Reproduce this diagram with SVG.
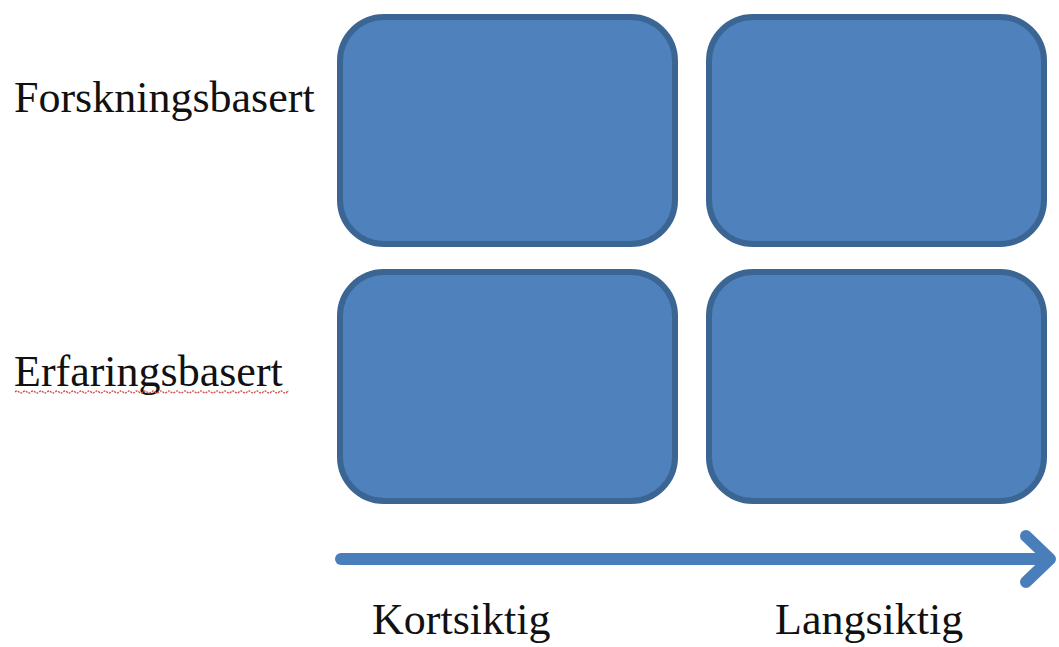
<svg xmlns="http://www.w3.org/2000/svg" width="1059" height="647" viewBox="0 0 1059 647">
<style>
.box{fill:#4f81bd;stroke:#3b6593;stroke-width:6}
.lbl{font-family:"Liberation Serif","Times New Roman",serif;font-size:44px;fill:#111}
.ax{stroke:#4a7ebb;stroke-width:12;fill:none;stroke-linecap:round;stroke-linejoin:round}
</style>
<defs><clipPath id="sq"><rect x="0" y="380" width="289" height="20"/></clipPath></defs>
<rect width="1059" height="647" fill="#ffffff"/>
<g id="box-forsk-kort"><rect class="box" x="340" y="17" width="335" height="227" rx="44"/></g>
<g id="box-forsk-lang"><rect class="box" x="709" y="17" width="335" height="227" rx="44"/></g>
<g id="box-erf-kort"><rect class="box" x="340" y="272" width="335" height="229" rx="44"/></g>
<g id="box-erf-lang"><rect class="box" x="709" y="272" width="335" height="229" rx="44"/></g>
<g id="label-forsk"><text class="lbl" x="14" y="112">Forskningsbasert</text></g>
<g id="label-erf"><text class="lbl" x="14" y="386">Erfaringsbasert</text>
<path clip-path="url(#sq)" d="M15 392 q2 -2 4 0 t4 0 t4 0 t4 0 t4 0 t4 0 t4 0 t4 0 t4 0 t4 0 t4 0 t4 0 t4 0 t4 0 t4 0 t4 0 t4 0 t4 0 t4 0 t4 0 t4 0 t4 0 t4 0 t4 0 t4 0 t4 0 t4 0 t4 0 t4 0 t4 0 t4 0 t4 0 t4 0 t4 0 t4 0 t4 0 t4 0 t4 0 t4 0 t4 0 t4 0 t4 0 t4 0 t4 0 t4 0 t4 0 t4 0 t4 0 t4 0 t4 0 t4 0 t4 0 t4 0 t4 0 t4 0 t4 0 t4 0 t4 0 t4 0 t4 0 t4 0 t4 0 t4 0 t4 0 t4 0 t4 0 t4 0 t4 0 t4 0 t4 0 t4 0 t4 0" fill="none" stroke="#d0504a" stroke-width="1.3" stroke-dasharray="2 1"/></g>
<g id="connectors">
<line class="ax" x1="341" y1="559" x2="1048" y2="559"/>
<polyline class="ax" points="1026,536 1050,559 1026,582"/>
</g>
<g id="label-kort"><text class="lbl" x="372" y="634">Kortsiktig</text></g>
<g id="label-lang"><text class="lbl" x="775" y="634">Langsiktig</text></g>
</svg>
